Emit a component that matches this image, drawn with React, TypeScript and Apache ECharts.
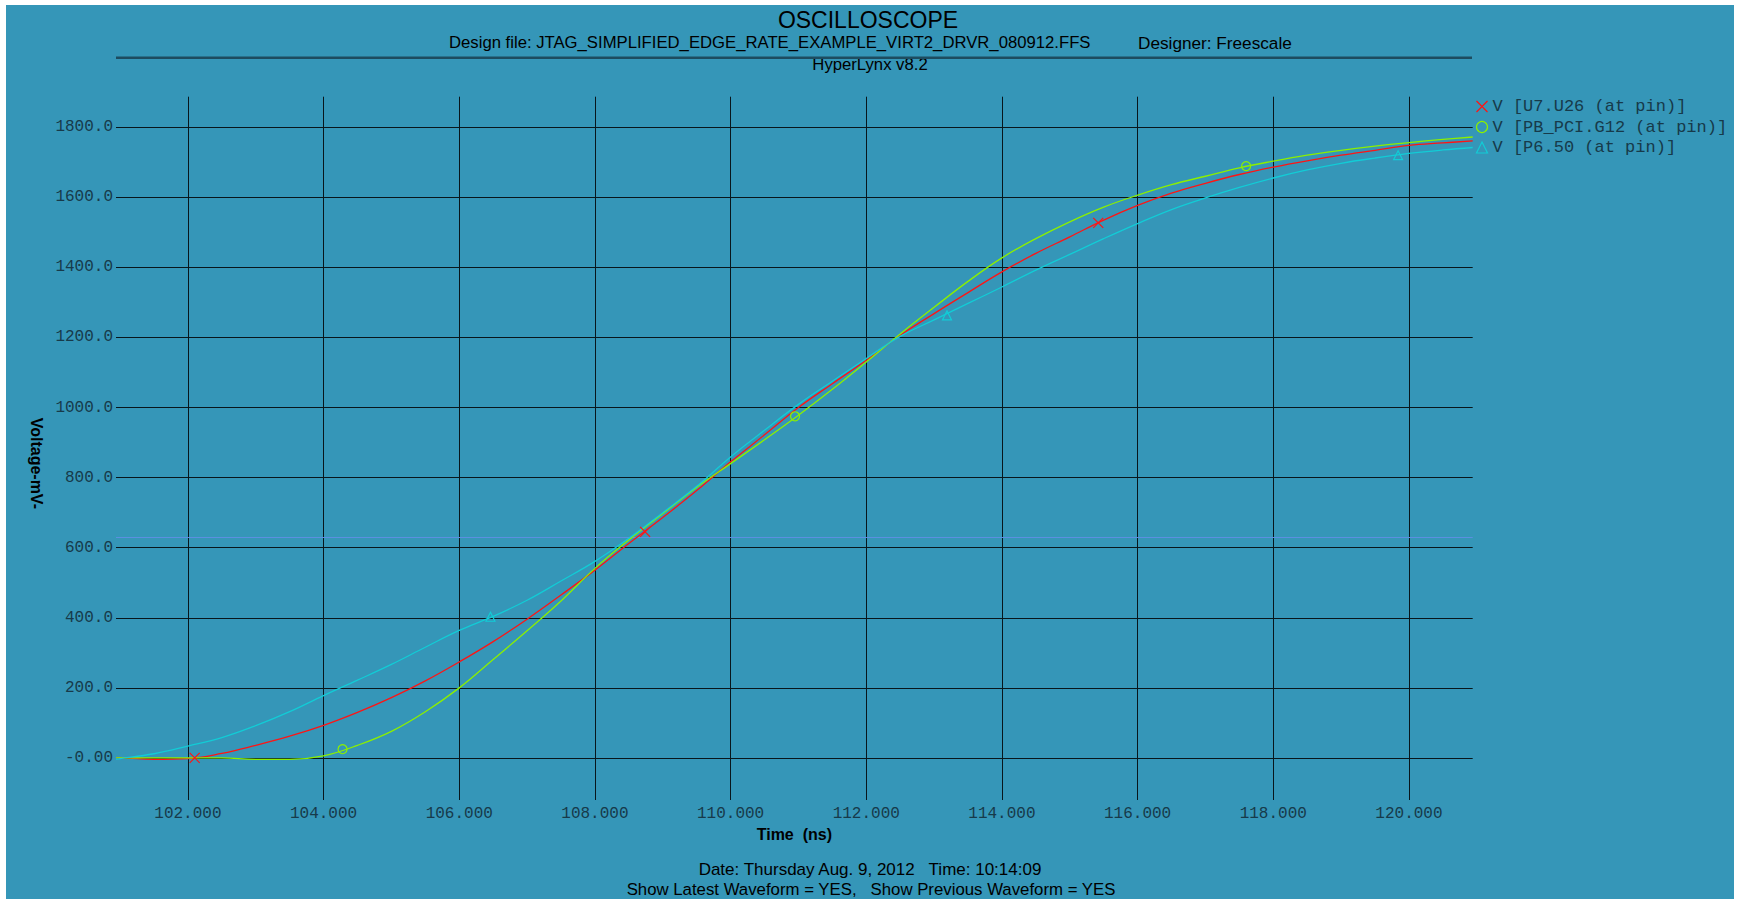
import React, { useEffect, useRef } from 'react';
import * as echarts from 'echarts';

// ---- data ----
const timeNs = [100.94, 101, 101.5, 102, 102.5, 103, 103.5, 104, 104.5, 105, 105.5, 106, 106.5, 107, 107.5, 108, 108.5, 109, 109.5, 110, 110.5, 111, 111.5, 112, 112.5, 113, 113.5, 114, 114.5, 115, 115.5, 116, 116.5, 117, 117.5, 118, 118.5, 119, 119.5, 120, 120.5, 120.94];
const voltU7 = [0, 0, -4, -2, 13, 36, 62, 93, 130, 172, 220, 274, 332, 396, 465, 536, 612, 686, 763, 845, 922, 1000, 1068, 1135, 1206, 1268, 1328, 1387, 1440, 1487, 1535, 1577, 1612, 1640, 1665, 1686, 1704, 1720, 1734, 1748, 1755, 1761];
const voltPB = [0, 0, 0, 0, 0, -4, -4, 6, 36, 76, 132, 200, 281, 363, 448, 541, 622, 697, 772, 840, 908, 978, 1052, 1130, 1210, 1286, 1360, 1427, 1482, 1530, 1572, 1606, 1636, 1660, 1684, 1703, 1720, 1734, 1746, 1756, 1765, 1772];
const voltP6 = [-3, -2, 12, 34, 58, 92, 132, 178, 222, 267, 316, 364, 404, 450, 505, 561, 627, 700, 775, 859, 935, 1009, 1075, 1140, 1203, 1250, 1297, 1344, 1392, 1437, 1482, 1525, 1565, 1598, 1628, 1655, 1678, 1697, 1712, 1725, 1735, 1742];

const markTimeU7 = [102.1, 108.74, 115.42];
const markVoltU7 = [0, 645, 1527];
const markTimePB = [104.28, 110.95, 117.6];
const markVoltPB = [25, 975, 1689];
const markTimeP6 = [106.46, 113.19, 119.84];
const markVoltP6 = [403, 1263, 1720];

const seriesNames = ['V [U7.U26 (at pin)]', 'V [PB_PCI.G12 (at pin)]', 'V [P6.50 (at pin)]'];

const xTickValues = [102, 104, 106, 108, 110, 112, 114, 116, 118, 120];
const xTickLabels = ['102.000', '104.000', '106.000', '108.000', '110.000', '112.000', '114.000', '116.000', '118.000', '120.000'];
const yTickValues = [0, 200, 400, 600, 800, 1000, 1200, 1400, 1600, 1800];
const yTickLabels = ['-0.00', '200.0', '400.0', '600.0', '800.0', '1000.0', '1200.0', '1400.0', '1600.0', '1800.0'];
const thresholdMv = [630];

const xRange = [100.94, 120.94];
const yRange = [-120, 1887];

// ---- styles ----
const BG = '#3596b8';
const GRID = '#08161c';
const LABEL = '#173a4a';
const RED = '#ff1414';
const GREEN = '#8cf000';
const CYAN = '#12ccd6';
const SANS = 'Liberation Sans, Arial, sans-serif';
const MONO = 'Liberation Mono, DejaVu Sans Mono, monospace';

const crossPath = 'path://M0,0L10,10M10,0L0,10';

function pairs(t: number[], v: number[]) {
  return t.map((x, i) => [x, v[i]]);
}

function marks(t: number[], v: number[], symbol: string, color: string, size: number) {
  return {
    silent: true,
    label: { show: false },
    data: t.map((x, i) => ({
      coord: [x, v[i]],
      symbol,
      symbolSize: size,
      itemStyle: { color: 'none', borderColor: color, borderWidth: 1.2 },
    })),
  };
}

const headStyle = (size: number) => ({ fontFamily: SANS, fontSize: size, fontWeight: 'normal', color: '#000' });

export default function App() {
  const ref = useRef<HTMLDivElement>(null);
  useEffect(() => {
    if (!ref.current) return;
    const chart = echarts.init(ref.current, undefined, { renderer: 'svg' });
    const gridLines: any[] = [
      ...xTickValues.map((x) => ({ xAxis: x })),
      ...yTickValues.map((y) => ({ yAxis: y })),
      ...thresholdMv.map((y) => ({ yAxis: y, lineStyle: { color: '#5b8fe0', width: 1, type: 'solid' } })),
    ];
    const option: any = {
      animation: false,
      backgroundColor: '#ffffff',
      graphic: [
        { type: 'rect', z: -10, silent: true, shape: { x: 6, y: 5, width: 1728, height: 894 }, style: { fill: BG } },
        { type: 'line', z: 10, silent: true, shape: { x1: 116, y1: 57.7, x2: 1472, y2: 57.7 }, style: { stroke: '#1d4c60', lineWidth: 2.5 } },
      ],
      title: [
        { text: 'OSCILLOSCOPE', left: 868, top: 8, textAlign: 'center', padding: 0, textStyle: headStyle(23) },
        { text: 'Design file: JTAG_SIMPLIFIED_EDGE_RATE_EXAMPLE_VIRT2_DRVR_080912.FFS', left: 449, top: 34, padding: 0, textStyle: headStyle(16.7) },
        { text: 'Designer: Freescale', left: 1138, top: 34, padding: 0, textStyle: headStyle(17.2) },
        { text: 'HyperLynx v8.2', left: 870, top: 56, textAlign: 'center', padding: 0, textStyle: headStyle(16.7) },
        { text: 'Date: Thursday Aug. 9, 2012   Time: 10:14:09', left: 870, top: 861, textAlign: 'center', padding: 0, textStyle: headStyle(17) },
        { text: 'Show Latest Waveform = YES,   Show Previous Waveform = YES', left: 871, top: 880.5, textAlign: 'center', padding: 0, textStyle: headStyle(16.8) },
      ],
      legend: {
        orient: 'vertical',
        left: 1474,
        top: 98,
        padding: 0,
        itemWidth: 11,
        itemHeight: 11,
        itemGap: 3.5,
        selectedMode: false,
        textStyle: { fontFamily: MONO, fontSize: 17, color: LABEL },
        data: [
          { name: seriesNames[0], icon: crossPath, itemStyle: { color: 'none', borderColor: RED, borderWidth: 1.2 } },
          { name: seriesNames[1], icon: 'circle', itemStyle: { color: 'none', borderColor: GREEN, borderWidth: 1.2 } },
          { name: seriesNames[2], icon: 'triangle', itemStyle: { color: 'none', borderColor: CYAN, borderWidth: 1.2 } },
        ],
      },
      grid: { left: 116, top: 96.7, width: 1356.7, height: 703.3, containLabel: false },
      xAxis: {
        type: 'value',
        min: xRange[0],
        max: xRange[1],
        name: 'Time  (ns)',
        nameLocation: 'middle',
        nameGap: 17,
        nameTextStyle: { fontFamily: SANS, fontSize: 16, fontWeight: 'bold', color: '#000' },
        axisLine: { show: false },
        axisTick: { show: false, customValues: xTickValues },
        splitLine: { show: false },
        axisLabel: {
          customValues: xTickValues,
          margin: 6,
          fontFamily: MONO,
          fontSize: 16,
          color: LABEL,
          formatter: (v: number) => xTickLabels[xTickValues.indexOf(v)] ?? '',
        },
      },
      yAxis: {
        type: 'value',
        min: yRange[0],
        max: yRange[1],
        name: 'Voltage-mV-',
        nameLocation: 'middle',
        nameRotate: -90,
        nameGap: 72,
        nameTextStyle: { fontFamily: SANS, fontSize: 16, fontWeight: 'bold', color: '#000', padding: [0, 0, 0, 30] },
        axisLine: { show: false },
        axisTick: { show: false, customValues: yTickValues },
        splitLine: { show: false },
        axisLabel: {
          customValues: yTickValues,
          margin: 3,
          fontFamily: MONO,
          fontSize: 16,
          color: LABEL,
          formatter: (v: number) => yTickLabels[yTickValues.indexOf(v)] ?? '',
        },
      },
      series: [
        {
          name: seriesNames[0],
          type: 'line',
          data: pairs(timeNs, voltU7),
          showSymbol: false,
          smooth: 0.4,
          lineStyle: { color: RED, width: 1.3 },
          itemStyle: { color: RED },
          z: 3,
          markLine: {
            silent: true,
            z: 1,
            symbol: ['none', 'none'],
            label: { show: false },
            lineStyle: { color: GRID, width: 1, type: 'solid' },
            data: gridLines,
          },
          markPoint: marks(markTimeU7, markVoltU7, crossPath, RED, 10),
        },
        {
          name: seriesNames[1],
          type: 'line',
          data: pairs(timeNs, voltPB),
          showSymbol: false,
          smooth: 0.4,
          lineStyle: { color: GREEN, width: 1.3 },
          itemStyle: { color: GREEN },
          z: 3,
          markPoint: marks(markTimePB, markVoltPB, 'circle', GREEN, 9),
        },
        {
          name: seriesNames[2],
          type: 'line',
          data: pairs(timeNs, voltP6),
          showSymbol: false,
          smooth: 0.4,
          lineStyle: { color: CYAN, width: 1.3 },
          itemStyle: { color: CYAN },
          z: 3,
          markPoint: marks(markTimeP6, markVoltP6, 'triangle', CYAN, 9),
        },
      ],
    };
    chart.setOption(option);
    return () => chart.dispose();
  }, []);
  return <div ref={ref} style={{ position: 'fixed', left: 0, top: 0, width: 1738, height: 899 }} />;
}
